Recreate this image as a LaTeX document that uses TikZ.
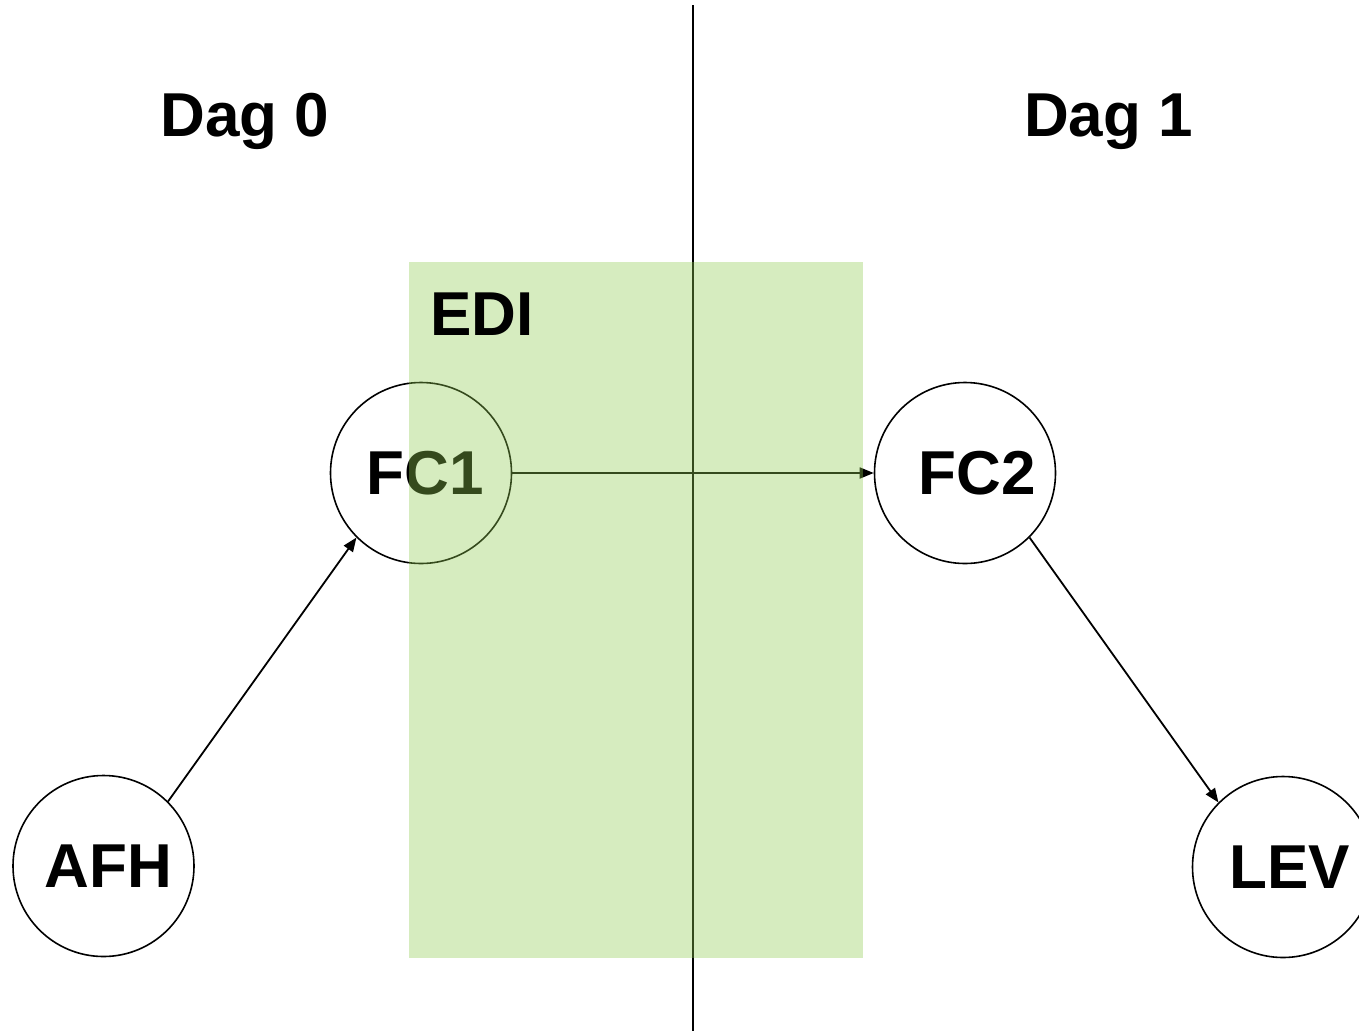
\documentclass[tikz,border=0pt]{standalone}
\usepackage{fontspec}
\setmainfont{Liberation Sans}
\usetikzlibrary{arrows.meta}
\definecolor{edigreen}{RGB}{145,203,81}
\begin{document}
\begin{tikzpicture}[x=1pt,y=-1pt,
  circ/.style={circle,draw,line width=1.6pt,minimum size=181pt,inner sep=0pt,font=\fontsize{62}{62}\selectfont\bfseries},
  lbl/.style={font=\fontsize{62}{62}\selectfont\bfseries,inner sep=0pt,anchor=base},
  conn/.style={line width=1.8pt,-{Triangle[length=14pt,width=11pt]}}]
\useasboundingbox (0,0) rectangle (1359,1031);
\coordinate (vtop) at (693,5);
\coordinate (vbot) at (693,1031);
\draw[line width=2pt] (vtop) -- (vbot);
\node[circ] (fc1) at (421,473) {\hspace*{8pt}FC1};
\node[circ] (fc2) at (965,473) {\hspace*{24pt}FC2};
\node[circ] (afh) at (103.5,866) {\hspace*{10pt}AFH};
\node[circ] (lev) at (1283,867) {\hspace*{14pt}LEV};
\draw[conn] (afh.45) -- (fc1.225);
\draw[conn] (fc1) -- (fc2);
\draw[conn] (fc2.-45) -- (lev.135);
\fill[edigreen,fill opacity=0.37] (409,262) rectangle (863,958);
\node[lbl] (dag0) at (245,136) {Dag 0};
\node[lbl] (dag1) at (1108.5,136) {Dag 1};
\node[lbl,anchor=base west] (edi) at (430,335) {EDI};
\end{tikzpicture}
\end{document}
